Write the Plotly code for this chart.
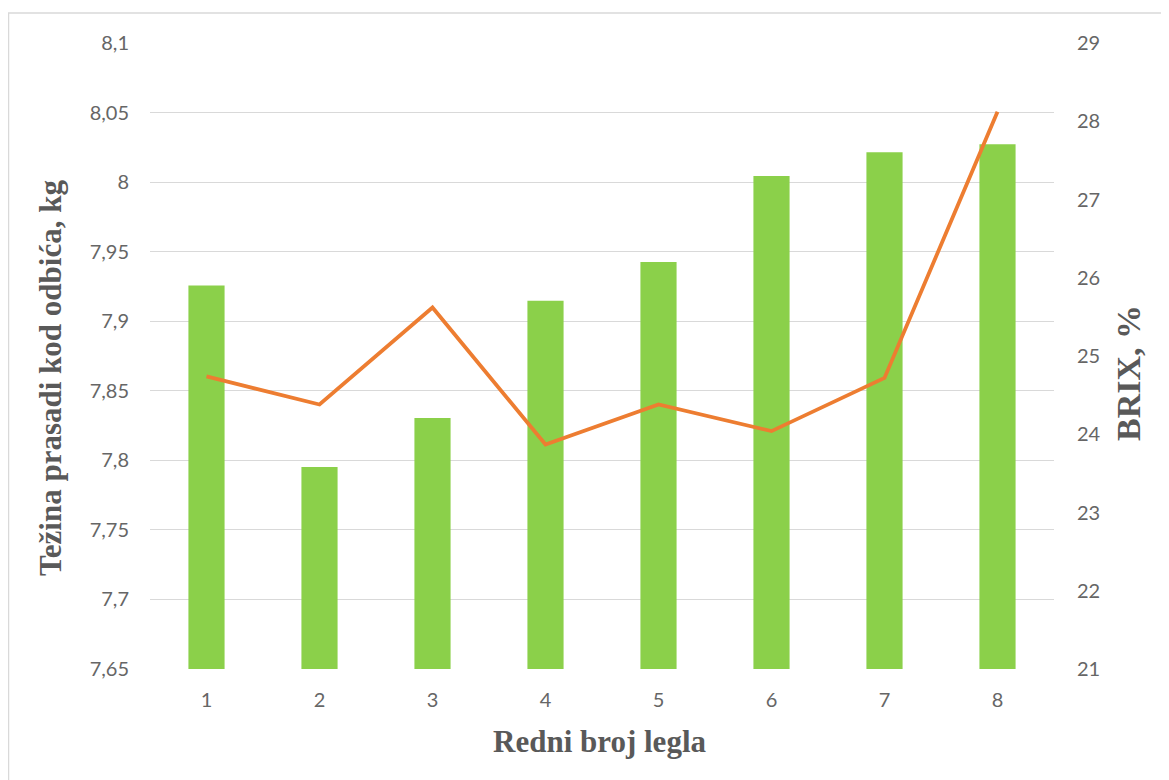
import plotly.graph_objects as go

categories = ["1", "2", "3", "4", "5", "6", "7", "8"]
weight_kg = [7.9256, 7.7952, 7.8304, 7.9147, 7.9425, 8.0044, 8.0215, 8.0272]
brix_pct = [24.74, 24.38, 25.62, 23.87, 24.38, 24.04, 24.72, 28.12]

left_tickvals = [7.65, 7.7, 7.75, 7.8, 7.85, 7.9, 7.95, 8.0, 8.05, 8.1]
left_ticktext = ["7,65", "7,7", "7,75", "7,8", "7,85", "7,9", "7,95", "8", "8,05", "8,1"]
right_tickvals = [21, 22, 23, 24, 25, 26, 27, 28, 29]

x_title = "Redni broj legla"
y_title = "Težina prasadi kod odbića, kg"
y2_title = "BRIX, %"

tick_font = dict(family="Lato, Open Sans, sans-serif", size=20, color="#666666")
title_font = dict(family="Liberation Serif, Times New Roman, serif", size=31, color="#595959")
title_font_r = dict(family="Liberation Serif, Times New Roman, serif", size=34, color="#595959")

# figure sits inside the page body (8px margin), so figure coords = screen - 8
W, H = 1161, 772
L, R, T, B = 142, 115, 35, 111
pw, ph = W - L - R, H - T - B


def px_x(sx):
    return (sx - 8 - L) / pw


def px_y(sy):
    return (H - B - (sy - 8)) / ph


fig = go.Figure()
fig.add_trace(go.Bar(
    x=categories, y=weight_kg, marker=dict(color="#8BD04A", line=dict(width=0)),
    width=0.32, yaxis="y", name="Težina", showlegend=False,
))
fig.add_trace(go.Scatter(
    x=categories, y=brix_pct, mode="lines", line=dict(color="#ED7D31", width=3.8),
    yaxis="y2", name="BRIX", showlegend=False,
))

fig.update_layout(
    width=W, height=H,
    margin=dict(l=L, r=R, t=T, b=B),
    paper_bgcolor="white", plot_bgcolor="white",
    xaxis=dict(
        type="category", tickfont=tick_font, showgrid=False, showline=False,
        ticks="", ticklen=0, ticklabelstandoff=17,
    ),
    yaxis=dict(
        range=[7.65, 8.1], tickvals=left_tickvals, ticktext=left_ticktext,
        tickfont=tick_font, showgrid=True, gridcolor="#D9D9D9", gridwidth=1.3,
        zeroline=False, showline=False, ticks="", ticklabelstandoff=20,
    ),
    yaxis2=dict(
        range=[21, 29], tickvals=right_tickvals, overlaying="y", side="right",
        tickfont=tick_font, showgrid=False, zeroline=False, showline=False,
        ticks="", ticklabelstandoff=22,
    ),
    annotations=[
        dict(text="<b>%s</b>" % x_title, xref="paper", yref="paper",
             x=px_x(599), y=px_y(741), showarrow=False, font=title_font,
             xanchor="center", yanchor="middle"),
        dict(text="<b>%s</b>" % y_title, xref="paper", yref="paper",
             x=px_x(50), y=px_y(378), showarrow=False, font=title_font,
             textangle=-90, xanchor="center", yanchor="middle"),
        dict(text="<b>%s</b>" % y2_title, xref="paper", yref="paper",
             x=px_x(1128), y=px_y(373), showarrow=False, font=title_font_r,
             textangle=-90, xanchor="center", yanchor="middle"),
    ],
    shapes=[dict(
        type="rect", xref="paper", yref="paper",
        x0=px_x(8.5), x1=px_x(1300), y0=px_y(900), y1=px_y(13),
        line=dict(color="#D9D9D9", width=1.5), layer="below",
    )],
)

fig.write_html("out.html")
